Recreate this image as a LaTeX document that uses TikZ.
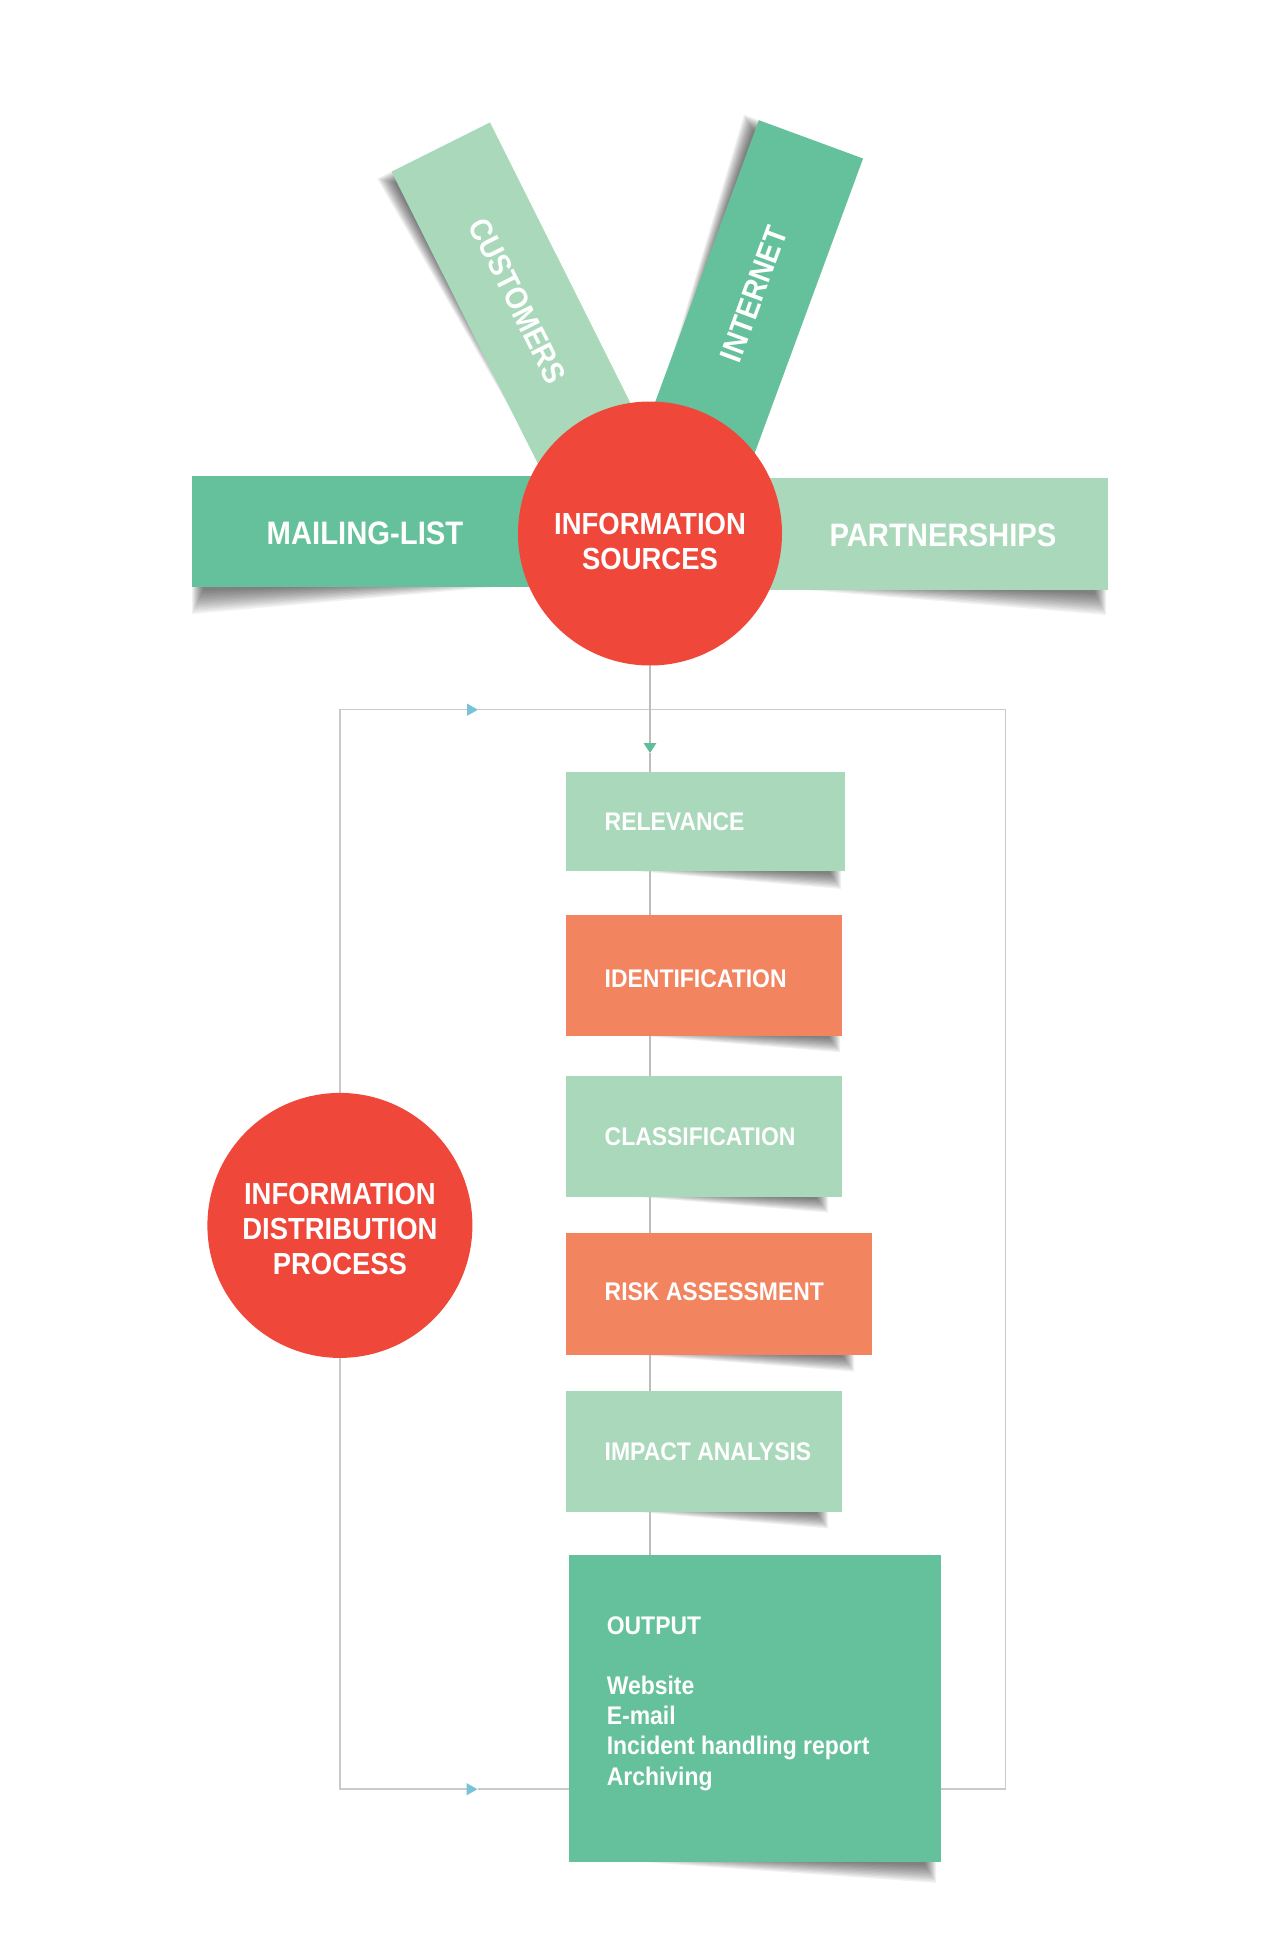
\documentclass[tikz,border=0pt]{standalone}
\usepackage{fontspec}
\setmainfont{Liberation Sans}[FakeStretch=0.9]
\usetikzlibrary{arrows.meta}
\definecolor{lgreen}{HTML}{A9D8BB}
\definecolor{mgreen}{HTML}{64C19B}
\definecolor{orng}{HTML}{F38460}
\definecolor{cred}{HTML}{EF473A}
\definecolor{lgray}{HTML}{CACACA}
\definecolor{vgray}{HTML}{BDBDBD}
\definecolor{ablue}{HTML}{79C3D9}
\definecolor{agreen}{HTML}{5DBE97}
\pgfdeclarelayer{shadowlayer}
\pgfdeclarelayer{linelayer}
\pgfsetlayers{shadowlayer,linelayer,main}
% tapered soft shadow: thin end at x=0, thick end at x=#1, thickness #2 (local +y)
\newcommand\tshadow[2]{%
  \foreach \k in {0,...,11}{%
    \fill[black,opacity=0.055] ({\k*#1/30},-3) -- ({#1-\k*1.0},-3) -- ({#1-\k*1.0},{#2*(1-\k/13)}) -- cycle;
  }%
}
\begin{document}
\begin{tikzpicture}[x=1pt,y=-1pt,
  box/.style={rectangle, inner sep=0pt, anchor=north west},
  lbl/.style={text=white, inner sep=0pt, anchor=west, font=\bfseries\fontsize{25.5}{30.2}\selectfont},
  big/.style={text=white, inner sep=0pt, font=\bfseries\fontsize{32.5}{38}\selectfont},
  ctext/.style={text=white, inner sep=0pt, align=center, font=\bfseries\fontsize{30.5}{35}\selectfont},
  band/.style={rectangle, inner sep=0pt, text=white, font=\bfseries\fontsize{31.3}{36}\selectfont},
  redcirc/.style={circle, fill=cred, inner sep=0pt},
  loopline/.style={draw=lgray, line width=1.5pt},
  vline/.style={draw=vgray, line width=1.5pt},
  bluetip/.style={-{Triangle[width=12pt,length=11pt,color=ablue]}},
  greentip/.style={-{Triangle[width=12.5pt,length=10pt,color=agreen]}}
]
\useasboundingbox (0,0) rectangle (1279,1960);

% ---- shadows ----
\begin{pgfonlayer}{shadowlayer}
  \begin{scope}[shift={(534.9,457.9)}, x={(-0.448pt,0.895pt)}, y={(-0.895pt,-0.448pt)}]
    \tshadow{320}{16}
  \end{scope}
  \begin{scope}[shift={(655.3,401.8)}, x={(0.3457pt,0.9386pt)}, y={(-0.9386pt,0.3457pt)}]
    \tshadow{300}{16}
  \end{scope}
  \begin{scope}[shift={(528,587)}, xscale=-1]
    \tshadow{336}{27}
  \end{scope}
  \begin{scope}[shift={(772,590)}]
    \tshadow{334}{25}
  \end{scope}
  \begin{scope}[shift={(601,871)}]\tshadow{240}{18}\end{scope}
  \begin{scope}[shift={(598,1035.3)}]\tshadow{242}{17}\end{scope}
  \begin{scope}[shift={(598,1196.6)}]\tshadow{230}{16}\end{scope}
  \begin{scope}[shift={(598,1354.6)}]\tshadow{256}{17}\end{scope}
  \begin{scope}[shift={(598,1511.5)}]\tshadow{230}{17}\end{scope}
  \begin{scope}[shift={(598,1861.9)}]\tshadow{338}{21}\end{scope}
\end{pgfonlayer}

% ---- information sources ----
\node[band, fill=lgreen, minimum width=344pt, minimum height=110pt, rotate=-63.4] (cust) at (517.8,300.8) {CUSTOMERS};
\node[band, fill=mgreen, minimum width=330pt, minimum height=111pt, rotate=69.8] (inet) at (754,294.2) {INTERNET};
\node[box, fill=mgreen, minimum width=420pt, minimum height=111pt] (mail) at (192,476) {};
\node[big] (mailT) at (365,533.5) {MAILING-LIST};
\node[box, fill=lgreen, minimum width=420pt, minimum height=112pt] (part) at (688,478) {};
\node[big] (partT) at (943,535.4) {PARTNERSHIPS};
\node[redcirc, minimum size=264pt] (src) at (650,533.5) {};
\node[ctext] (srcT) at (650,541.5) {INFORMATION\\SOURCES};

% ---- process boxes ----
\node[box, fill=lgreen, minimum width=279pt, minimum height=99.5pt] (rel) at (565.5,771.5) {};
\node[lbl] (relT) at ([xshift=39pt]rel.west) {RELEVANCE};
\node[box, fill=orng, minimum width=276pt, minimum height=120.5pt] (ident) at (565.5,914.8) {};
\node[lbl] (identT) at ([xshift=39pt,yshift=-3pt]ident.west) {IDENTIFICATION};
\node[box, fill=lgreen, minimum width=276pt, minimum height=121pt] (class) at (565.5,1075.6) {};
\node[lbl] (classT) at ([xshift=39pt]class.west) {CLASSIFICATION};
\node[box, fill=orng, minimum width=306pt, minimum height=121.4pt] (risk) at (565.5,1233.2) {};
\node[lbl] (riskT) at ([xshift=39pt,yshift=2pt]risk.west) {RISK ASSESSMENT};
\node[box, fill=lgreen, minimum width=276pt, minimum height=120.8pt] (impact) at (565.5,1390.7) {};
\node[lbl] (impactT) at ([xshift=39pt]impact.west) {IMPACT ANALYSIS};
\node[box, fill=mgreen, minimum width=372pt, minimum height=307pt] (out) at (568.7,1554.9) {};
\node[lbl, anchor=north west, align=left] (outT) at (606.6,1616) {OUTPUT\\[30.2pt]Website\\E-mail\\Incident handling report\\Archiving};

% ---- distribution ----
\node[redcirc, minimum size=265pt] (dist) at (339.9,1225.4) {};
\node[ctext] (distT) at (339.9,1228.5) {INFORMATION\\DISTRIBUTION\\PROCESS};

% ---- connectors ----
\coordinate (tl) at (339.9,709.7);
\coordinate (tr) at (1005.4,709.7);
\coordinate (br) at (1005.4,1789.2);
\coordinate (bl) at (339.9,1789.2);
\coordinate (ta) at (478,709.7);
\coordinate (ba) at (477.5,1789.2);
\coordinate (ga) at (650,753);
\begin{pgfonlayer}{linelayer}
  \draw[loopline, bluetip] (dist.north) -- (tl) -- (ta);
  \draw[loopline] (ta) -- (tr) -- (br) -- (out.east |- br);
  \draw[loopline, bluetip] (dist.south) -- (bl) -- (ba);
  \draw[loopline] (ba) -- (out.west |- ba);
  \draw[vline, greentip] (src.south) -- (ga);
  \draw[vline] (ga) -- (ga |- out.north);
\end{pgfonlayer}
\end{tikzpicture}
\end{document}
